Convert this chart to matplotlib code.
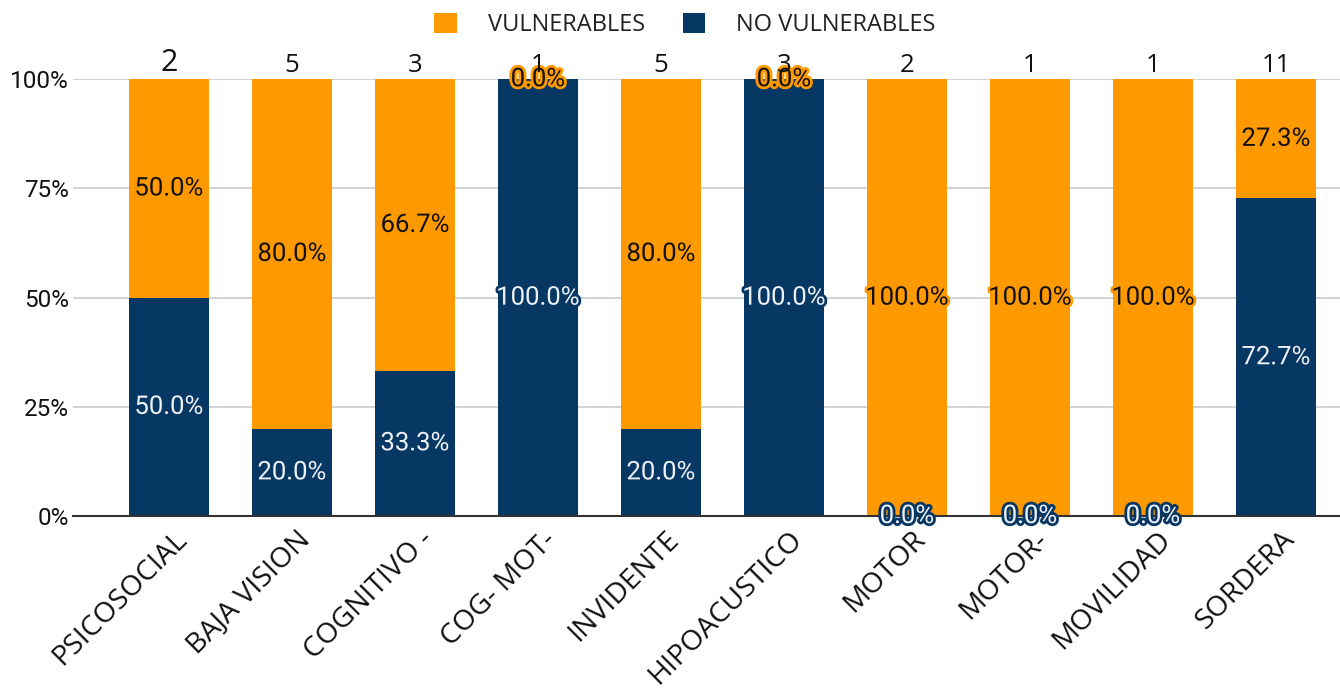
import matplotlib
matplotlib.use("Agg")
import matplotlib.pyplot as plt
import matplotlib.patheffects as pe
import matplotlib.transforms as mtransforms
from matplotlib.ticker import FixedLocator, PercentFormatter

# Data
categories = ["PSICOSOCIAL", "BAJA VISION", "COGNITIVO -", "COG- MOT-", "INVIDENTE",
              "HIPOACUSTICO", "MOTOR", "MOTOR-", "MOVILIDAD", "SORDERA"]
totals = [2, 5, 3, 1, 5, 3, 2, 1, 1, 11]
vulnerables = [50.0, 80.0, 66.7, 0.0, 80.0, 0.0, 100.0, 100.0, 100.0, 27.3]
no_vulnerables = [50.0, 20.0, 33.3, 100.0, 20.0, 100.0, 0.0, 0.0, 0.0, 72.7]

ORANGE = "#ff9900"
NAVY = "#073763"

fig = plt.figure(figsize=(13.4, 6.89), dpi=100)
ax = fig.add_axes([0.0545, 0.251, 0.9455, 0.634])

x = list(range(len(categories)))
ax.bar(x, no_vulnerables, width=0.65, color=NAVY, zorder=2, label="NO VULNERABLES")
ax.bar(x, vulnerables, width=0.65, bottom=no_vulnerables, color=ORANGE, zorder=2,
       label="VULNERABLES")

# segment labels, stroked with the bar colour (only visible when off the bar)
for i in x:
    nv, v = no_vulnerables[i], vulnerables[i]
    ax.text(i, nv / 2, f"{nv:.1f}%", ha="center", va="center", fontsize=18.5,
            family="Roboto", color="#eef2f7", zorder=4,
            path_effects=[pe.withStroke(linewidth=4, foreground=NAVY)])
    ax.text(i, nv + v / 2, f"{v:.1f}%", ha="center", va="center", fontsize=18.5,
            family="Roboto", color="#111111", zorder=5,
            path_effects=[pe.withStroke(linewidth=4, foreground=ORANGE)])

# totals above the bars
for i in x:
    ax.annotate(str(totals[i]), (i, 100), xytext=(0, 1), textcoords="offset points",
                ha="center", va="bottom", fontsize=22 if i == 0 else 18.5,
                family="Open Sans", color="#111111", zorder=6)

ax.set_xlim(-0.78, 9.52)
ax.set_ylim(0, 100)
ax.yaxis.set_major_locator(FixedLocator([0, 25, 50, 75, 100]))
ax.yaxis.set_major_formatter(PercentFormatter(decimals=0))
ax.grid(axis="y", color="#c8ccd0", lw=1.2, zorder=0)
ax.set_axisbelow(True)
for s in ["top", "right", "left"]:
    ax.spines[s].set_visible(False)
ax.spines["bottom"].set_color("#333333")
ax.spines["bottom"].set_linewidth(1.5)
ax.spines["bottom"].set_zorder(3)
ax.tick_params(axis="y", length=0, pad=3, labelsize=17.5, labelcolor="#111111")
for lbl in ax.get_yticklabels():
    lbl.set_family("Roboto")

ax.set_xticks(x)
ax.set_xticklabels(categories, rotation=45, ha="right", va="center",
                   rotation_mode="anchor", fontsize=20.5, family="Open Sans",
                   color="#111111")
ax.tick_params(axis="x", length=0, pad=14)
shift = mtransforms.ScaledTranslation(14 / 100, 0, fig.dpi_scale_trans)
for lbl in ax.get_xticklabels():
    lbl.set_transform(lbl.get_transform() + shift)

handles, labels = ax.get_legend_handles_labels()
fig.legend(handles[::-1], labels[::-1], loc="center", bbox_to_anchor=(0.511, 0.964),
           ncol=2, frameon=False, prop={"family": "Open Sans", "size": 17},
           handlelength=0.95, handleheight=0.95, columnspacing=1.6, handletextpad=1.3,
           labelcolor="#222222")

fig.savefig("out.png", dpi=100)
